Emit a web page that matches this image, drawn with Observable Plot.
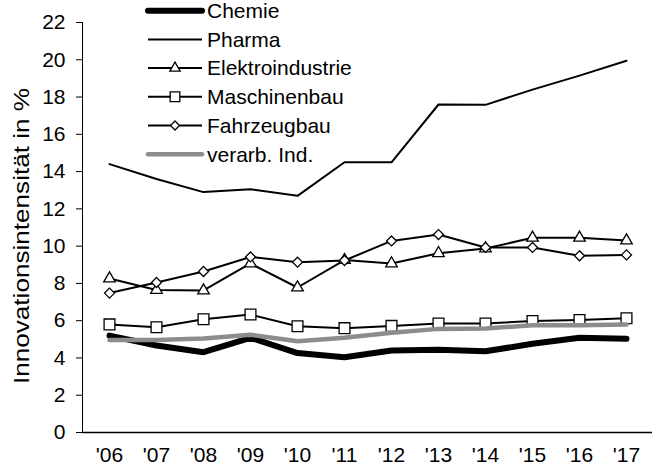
<!DOCTYPE html>
<html><head><meta charset="utf-8">
<script src="https://cdn.jsdelivr.net/npm/d3@7"></script>
<script src="https://cdn.jsdelivr.net/npm/@observablehq/plot@0.6"></script>
<style>
body{margin:0;background:#fff}
svg{font-family:"Liberation Sans",Arial,sans-serif}
</style>
</head><body><div id="chart"></div>
<script>
const years = ["'06","'07","'08","'09","'10","'11","'12","'13","'14","'15","'16","'17"];
const yTicks = [0,2,4,6,8,10,12,14,16,18,20,22];
const chemie = [5.2,4.67,4.31,5.08,4.26,4.04,4.4,4.44,4.36,4.76,5.08,5.03];
const pharma = [14.4,13.6,12.9,13.05,12.7,14.5,14.5,17.6,17.58,18.4,19.15,19.95];
const elektro = [8.26,7.65,7.62,9.07,7.78,9.25,9.07,9.62,9.87,10.45,10.45,10.3];
const maschinenbau = [5.8,5.65,6.08,6.33,5.7,5.6,5.72,5.85,5.85,5.98,6.03,6.13];
const fahrzeugbau = [7.48,8.05,8.64,9.42,9.14,9.23,10.28,10.62,9.93,9.93,9.48,9.53];
const verarb = [4.97,4.97,5.05,5.24,4.9,5.08,5.35,5.56,5.58,5.75,5.76,5.8];
const names = ["Chemie","Pharma","Elektroindustrie","Maschinenbau","Fahrzeugbau","verarb. Ind."];
const yLabel = "Innovationsintensität in %";

const styles = [
  {color:"#000", width:6, symbol:null},
  {color:"#000", width:2, symbol:null},
  {color:"#000", width:2, symbol:"triangle", r:4.3},
  {color:"#000", width:2, symbol:"square", r:6.1},
  {color:"#000", width:2, symbol:"diamond2", r:4.5},
  {color:"#8c8c8c", width:4.5, symbol:null}
];
const valuesList = [chemie, pharma, elektro, maschinenbau, fahrzeugbau, verarb];

const marks = [Plot.ruleY([0], {stroke:"#000", strokeWidth:1.3})];
names.forEach((name, k) => {
  const st = styles[k];
  const data = valuesList[k].map((v, i) => ({series:name, year:years[i], value:v}));
  marks.push(Plot.line(data, {x:"year", y:"value", stroke:st.color, strokeWidth:st.width,
    strokeLinejoin:"round", strokeLinecap:"round"}));
  if (st.symbol) {
    marks.push(Plot.dot(data, {x:"year", y:"value", symbol:st.symbol, r:st.r,
      fill:"white", stroke:"#000", strokeWidth:1.3}));
  }
});

const chart = Plot.plot({
  width:662, height:466,
  marginLeft:82, marginRight:10, marginTop:22, marginBottom:34,
  style:{fontSize:"21px", fontFamily:'"Liberation Sans", Arial, sans-serif', color:"#000", background:"#fff"},
  x:{type:"point", domain:years, padding:0.5, tickSize:0, tickPadding:15, label:null},
  y:{domain:[0,22], ticks:yTicks, tickSize:6, tickPadding:11, label:null, line:true},
  marks
});
document.getElementById("chart").appendChild(chart);

const svg = d3.select(chart);
// y axis title
svg.append("text")
  .attr("transform", "translate(21,236) rotate(-90)")
  .attr("text-anchor", "middle").attr("dy", "0.35em")
  .attr("font-size", 21.5).attr("fill", "#000")
  .attr("textLength", 296).attr("lengthAdjust", "spacingAndGlyphs")
  .text(yLabel);

// legend
const lg = svg.append("g").attr("text-anchor", "start");
names.forEach((name, k) => {
  const st = styles[k];
  const y = 10.7 + k * 28.7;
  lg.append("line").attr("x1", 148).attr("x2", 202).attr("y1", y).attr("y2", y)
    .attr("stroke", st.color).attr("stroke-width", st.width)
    .attr("stroke-linecap", st.width > 3 ? "round" : "butt");
  if (st.symbol) {
    const sym = {triangle:d3.symbolTriangle, square:d3.symbolSquare, diamond2:d3.symbolDiamond2}[st.symbol];
    lg.append("path").attr("transform", `translate(175,${y})`)
      .attr("d", d3.symbol(sym, Math.PI * st.r * st.r * 0.8)())
      .attr("fill", "white").attr("stroke", "#000").attr("stroke-width", 1.3);
  }
  lg.append("text").attr("x", 207).attr("y", y).attr("dy", "0.35em")
    .attr("text-anchor", "start")
    .attr("font-size", 21).attr("fill", "#000").text(name);
});
</script>
</body></html>
